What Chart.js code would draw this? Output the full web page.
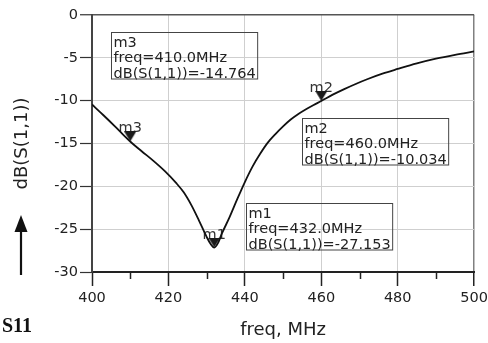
<!DOCTYPE html>
<html><head><meta charset="utf-8">
<script src="https://cdn.jsdelivr.net/npm/chart.js@4/dist/chart.umd.min.js"></script>
<style>html,body{margin:0;padding:0;background:#fff;overflow:hidden;} #wrap{width:488px;height:343px;}</style>
</head><body><div id="wrap"><canvas id="c" width="488" height="343"></canvas></div>
<script>
// ---- data ----
const freqMHz = [400,403,406,408,410,413,416,419,422,424,426,428,430,431,432,433,434,436,438,440,442,444,446,448,450,452,454,456,458,460,463,466,469,472,476,480,485,490,495,500];
const s11dB   = [-10.45,-11.7,-13.0,-13.9,-14.764,-15.9,-17.0,-18.2,-19.6,-20.7,-22.2,-24.0,-25.9,-26.7,-27.153,-26.6,-25.5,-23.6,-21.5,-19.5,-17.7,-16.2,-14.9,-13.9,-13.0,-12.2,-11.55,-11.0,-10.5,-10.034,-9.3,-8.65,-8.05,-7.5,-6.85,-6.3,-5.65,-5.1,-4.65,-4.25];
const markerNames = ['m3','m2','m1'];
const markerFreq  = [410, 460, 432];
const markerDB    = [-14.764, -10.034, -27.153];
const xTickValues = [400,420,440,460,480,500];
const xMinorTicks = [410,430,450,470,490];
const yTickValues = [0,-5,-10,-15,-20,-25,-30];
// readout box anchors (top-left corner, in axis units)
const boxFreq = [405.1, 455.0, 440.2];
const boxDB   = [-1.95, -12.02, -21.96];

const FONT = "'DejaVu Sans', sans-serif";

// downward triangle whose tip sits at the image centre
const tri = document.createElement('canvas');
tri.width = 12; tri.height = 20;
{ const t = tri.getContext('2d'); t.fillStyle = '#1a1a1a'; t.beginPath(); t.moveTo(0,0); t.lineTo(12,0); t.lineTo(6,10); t.closePath(); t.fill(); }

const annot = {
  id: 'annot',
  beforeDatasetsDraw(chart) {
    const ctx = chart.ctx, meta = chart.getDatasetMeta(1);
    ctx.save();
    ctx.font = '14.5px ' + FONT; ctx.fillStyle = '#333'; ctx.textAlign = 'center'; ctx.textBaseline = 'alphabetic';
    meta.data.forEach((p, i) => { ctx.fillText(markerNames[i], p.x, p.y - 9); });
    ctx.restore();
  },
  afterDraw(chart) {
    const ctx = chart.ctx, xs = chart.scales.x, ys = chart.scales.y, area = chart.chartArea;
    ctx.save();
    // minor x ticks
    ctx.strokeStyle = '#222'; ctx.lineWidth = 1.5;
    xMinorTicks.forEach(v => { const x = Math.round(xs.getPixelForValue(v)) + 0.5; ctx.beginPath(); ctx.moveTo(x, area.bottom); ctx.lineTo(x, area.bottom + 7); ctx.stroke(); });
    // readout boxes
    ctx.font = '14.5px ' + FONT; ctx.fillStyle = '#222'; ctx.textAlign = 'left'; ctx.textBaseline = 'alphabetic';
    markerNames.forEach((n, i) => {
      const lines = [n, 'freq=' + markerFreq[i].toFixed(1) + 'MHz', 'dB(S(1,1))=' + markerDB[i].toFixed(3)];
      const bx = Math.round(xs.getPixelForValue(boxFreq[i])) + 0.5, by = Math.round(ys.getPixelForValue(boxDB[i])) + 0.5;
      const w = Math.max(...lines.map(l => ctx.measureText(l).width)) + 4;
      ctx.strokeStyle = '#444'; ctx.lineWidth = 1; ctx.strokeRect(bx, by, w, 46.5);
      lines.forEach((l, k) => ctx.fillText(l, bx + 2, by + 14.5 + k * 15.3));
    });
    // arrow
    ctx.strokeStyle = '#111'; ctx.fillStyle = '#111'; ctx.lineWidth = 2.2;
    ctx.beginPath(); ctx.moveTo(21, 275); ctx.lineTo(21, 229); ctx.stroke();
    ctx.beginPath(); ctx.moveTo(14.5, 232); ctx.lineTo(27.5, 232); ctx.lineTo(21, 215); ctx.closePath(); ctx.fill();
    ctx.font = "bold 20px 'Liberation Serif', serif"; ctx.fillStyle = '#111';
    ctx.fillText('S11', 2, 332);
    ctx.restore();
  }
};

new Chart(document.getElementById('c'), {
  data: {
    datasets: [
      { type: 'line', data: freqMHz.map((f, i) => ({x: f, y: s11dB[i]})), borderColor: '#111', borderWidth: 1.8, pointRadius: 0, cubicInterpolationMode: 'monotone', fill: false },
      { type: 'scatter', data: markerFreq.map((f, i) => ({x: f, y: markerDB[i]})), pointStyle: tri, pointRadius: 6 }
    ]
  },
  options: {
    responsive: false, animation: false, devicePixelRatio: 1,
    layout: { padding: { top: 15, right: 13, left: 0, bottom: 0 } },
    plugins: { legend: { display: false }, tooltip: { enabled: false } },
    scales: {
      x: {
        type: 'linear', min: 400, max: 500,
        afterBuildTicks: s => { s.ticks = xTickValues.map(v => ({value: v})); },
        afterFit: s => { s.height = 71; },
        grid: { color: c => (c.tick && c.tick.value === 500) ? '#808080' : '#cfcfcf', lineWidth: c => (c.tick && c.tick.value === 500) ? 1.5 : 1, tickColor: '#222', tickLength: 14, tickWidth: 1.5 },
        border: { color: '#222', width: 2 },
        ticks: { font: { family: FONT, size: 14.5, lineHeight: 1.75 }, color: '#222', padding: 0, maxRotation: 0, autoSkip: false },
        title: { display: true, text: 'freq, MHz', font: { family: FONT, size: 18, lineHeight: 1.2 }, color: '#222', padding: { top: 0, bottom: 2 } }
      },
      y: {
        type: 'linear', min: -30, max: 0,
        afterBuildTicks: s => { s.ticks = yTickValues.map(v => ({value: v})); },
        afterFit: s => { s.width = 92; },
        grid: { color: c => (c.tick && c.tick.value === 0) ? '#555' : '#cfcfcf', lineWidth: c => (c.tick && c.tick.value === 0) ? 1.5 : 1, tickColor: '#333', tickLength: 12, tickWidth: 1.2 },
        border: { color: '#444', width: 2 },
        ticks: { font: { family: FONT, size: 14.5 }, color: '#222', padding: 2 },
        title: { display: true, text: 'dB(S(1,1))', font: { family: FONT, size: 18, lineHeight: 1.2 }, color: '#222', padding: { top: 12, bottom: 0 } }
      }
    }
  },
  plugins: [annot]
});
</script></body></html>
